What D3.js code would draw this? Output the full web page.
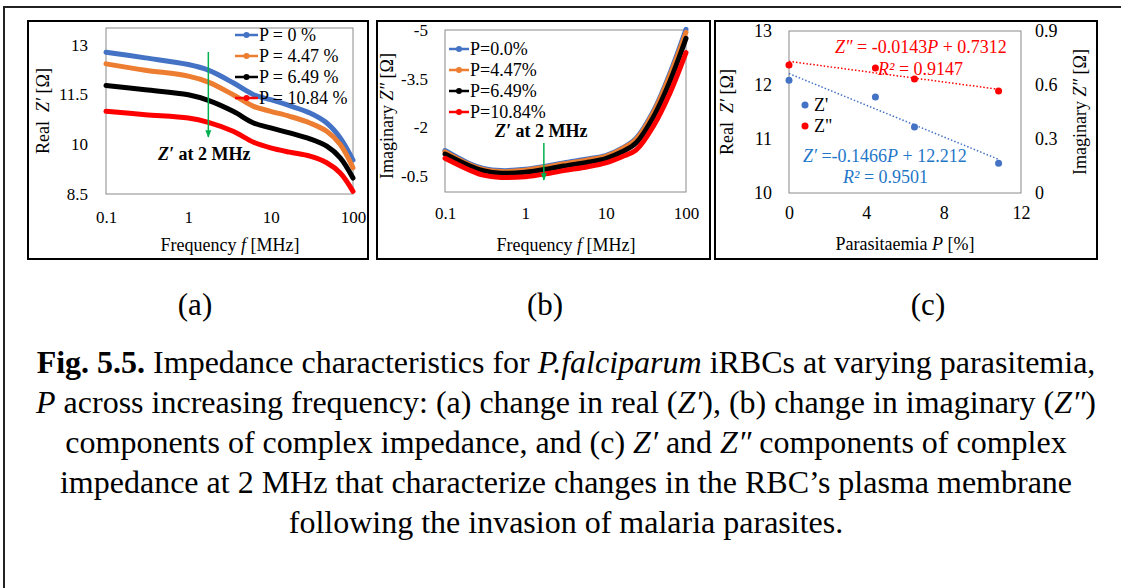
<!DOCTYPE html>
<html>
<head>
<meta charset="utf-8">
<script src="https://cdn.jsdelivr.net/npm/d3@7"></script>
<style>
body { margin: 0; background: #fff; }
text { font-family: "Liberation Serif", "Times New Roman", serif; fill: #000; }
</style>
</head>
<body>
<svg id="fig" width="1121" height="588"></svg>
<script>
// ---- data ----
// (a) real part Z' vs frequency
const freqA = [0.1, 0.3, 1, 1.75, 3.5, 6.2, 10, 17, 30, 48, 70, 100];
const realP0 = [12.77, 12.6, 12.40, 12.23, 11.85, 11.49, 11.34, 11.16, 10.94, 10.64, 10.19, 9.52];
const realP447 = [12.42, 12.23, 12.05, 11.87, 11.49, 11.14, 10.99, 10.84, 10.64, 10.39, 9.99, 9.29];
const realP649 = [11.77, 11.64, 11.49, 11.32, 10.99, 10.64, 10.49, 10.34, 10.16, 9.94, 9.59, 8.98];
const realP1084 = [10.99, 10.89, 10.79, 10.66, 10.39, 10.06, 9.89, 9.76, 9.64, 9.44, 9.13, 8.58];
const legendA = ["P = 0 %", "P = 4.47 %", "P = 6.49 %", "P = 10.84 %"];

// (b) imaginary part Z'' vs frequency
const freqB = [0.1, 0.2, 0.3, 0.5, 1, 2, 3, 6, 10, 16, 24, 40, 63, 100];
const imagP0 = [-1.28, -0.88, -0.73, -0.66, -0.70, -0.82, -0.90, -1.02, -1.12, -1.35, -1.66, -2.53, -3.66, -5.02];
const imagP447 = [-1.24, -0.85, -0.70, -0.63, -0.67, -0.79, -0.87, -0.99, -1.10, -1.33, -1.63, -2.49, -3.60, -4.93];
const imagP649 = [-1.17, -0.81, -0.66, -0.58, -0.61, -0.72, -0.80, -0.92, -1.03, -1.24, -1.52, -2.35, -3.41, -4.74];
const imagP1084 = [-1.04, -0.68, -0.52, -0.45, -0.47, -0.58, -0.66, -0.78, -0.90, -1.09, -1.30, -2.07, -3.05, -4.30];
const legendB = ["P=0.0%", "P=4.47%", "P=6.49%", "P=10.84%"];

// (c) Z' and Z'' at 2 MHz vs parasitaemia
const parasit = [0, 4.47, 6.49, 10.84];
const zReal2MHz = [12.09, 11.78, 11.22, 10.55];
const zImag2MHz = [0.711, 0.694, 0.633, 0.567];
const fitReal = [-0.1466, 12.212];
const fitImag = [-0.0143, 0.7312];

const seriesColors = ["#4472C4", "#ED7D31", "#000000", "#FF0000"];
const arrowGreen = "#00B050";
const serif = '"Liberation Serif", "Times New Roman", serif';
const NB = "\u00A0";

const svg = d3.select("#fig");

// outer figure frame (only top and left show in the crop)
svg.append("path")
    .attr("d", "M4,588 V7 H1121")
    .attr("fill", "none")
    .attr("stroke", "#222")
    .attr("stroke-width", 2);

const defs = svg.append("defs");
defs.append("marker")
    .attr("id", "arrowG")
    .attr("viewBox", "0 0 10 10")
    .attr("refX", 9).attr("refY", 5)
    .attr("markerWidth", 5).attr("markerHeight", 5)
    .attr("orient", "auto")
    .append("path")
    .attr("d", "M0,1 L10,5 L0,9 Z")
    .attr("fill", arrowGreen);

function frame(x0, y0, x1, y1) {
    svg.append("rect")
        .attr("x", x0).attr("y", y0)
        .attr("width", x1 - x0).attr("height", y1 - y0)
        .attr("fill", "none")
        .attr("stroke", "#000")
        .attr("stroke-width", 2);
}

function plotBox(x, y) {
    svg.append("rect")
        .attr("x", x.range()[0]).attr("y", y.range()[1])
        .attr("width", x.range()[1] - x.range()[0])
        .attr("height", y.range()[0] - y.range()[1])
        .attr("fill", "none")
        .attr("stroke", "#8a8a8a")
        .attr("stroke-width", 1);
}

function styleAxis(g, size) {
    g.attr("font-family", serif).attr("font-size", size);
    g.select(".domain").remove();
    g.selectAll("text")
        .attr("font-family", serif)
        .style("font-family", serif)
        .style("font-size", size + "px")
        .attr("fill", "#000");
}

// rich text helper: parts = [[text, style]], style "i", "b", "bi" or ""
function richText(sel, parts) {
    parts.forEach(function(p) {
        const t = sel.append("tspan").text(p[0]);
        if (p[1] && p[1].indexOf("i") >= 0) t.style("font-style", "italic");
        if (p[1] && p[1].indexOf("b") >= 0) t.style("font-weight", "bold");
    });
    return sel;
}

function curvePanel(freqs, series, x, y) {
    const line = d3.line()
        .x(function(d) { return x(d[0]); })
        .y(function(d) { return y(d[1]); })
        .curve(d3.curveCatmullRom.alpha(0.5));
    series.forEach(function(vals, i) {
        svg.append("path")
            .datum(freqs.map(function(f, k) { return [f, vals[k]]; }))
            .attr("d", line)
            .attr("fill", "none")
            .attr("stroke", seriesColors[i])
            .attr("stroke-width", 5)
            .attr("stroke-linecap", "round");
    });
}

function legendBlock(labels, x0, y0, dy, lineLen, size) {
    labels.forEach(function(lab, i) {
        const yy = y0 + i * dy;
        svg.append("line")
            .attr("x1", x0).attr("x2", x0 + lineLen)
            .attr("y1", yy).attr("y2", yy)
            .attr("stroke", seriesColors[i]).attr("stroke-width", 2.5);
        svg.append("circle")
            .attr("cx", x0 + lineLen / 2).attr("cy", yy).attr("r", 3)
            .attr("fill", seriesColors[i]);
        svg.append("text")
            .attr("x", x0 + lineLen + 1).attr("y", yy)
            .attr("dy", "0.35em")
            .style("font-size", size + "px")
            .text(lab);
    });
}

const fmt = function(d) { return String(d); };

// ================= panel (a) =================
frame(28, 21, 368, 259);
const xA = d3.scaleLog().domain([0.1, 100]).range([106, 353]);
const yA = d3.scaleLinear().domain([8.5, 13.5]).range([194, 28]);
plotBox(xA, yA);

svg.append("g").attr("transform", "translate(0,194)")
    .call(d3.axisBottom(xA).tickValues([0.1, 1, 10, 100])
        .tickFormat(fmt).tickSize(0).tickPadding(17))
    .call(styleAxis, 17);
svg.append("g").attr("transform", "translate(106,0)")
    .call(d3.axisLeft(yA).tickValues([8.5, 10, 11.5, 13])
        .tickFormat(fmt).tickSize(0).tickPadding(18))
    .call(styleAxis, 17);

curvePanel(freqA, [realP0, realP447, realP649, realP1084], xA, yA);
legendBlock(legendA, 235, 35, 21, 23, 18);

svg.append("line")
    .attr("x1", xA(1.75)).attr("x2", xA(1.75))
    .attr("y1", 52).attr("y2", 137)
    .attr("stroke", arrowGreen).attr("stroke-width", 1.5)
    .attr("marker-end", "url(#arrowG)");
richText(svg.append("text").attr("x", 158).attr("y", 160).style("font-size", "18px").style("font-weight", "bold"),
    [["Z\u2032", "bi"], [" at 2 MHz", "b"]]);

richText(svg.append("text").attr("text-anchor", "middle")
    .attr("transform", "translate(49,111) rotate(-90)").style("font-size", "18px"),
    [["Real" + NB + NB, ""], ["Z\u2032", "i"], [NB + "[\u03A9]", ""]]);
richText(svg.append("text").attr("text-anchor", "middle")
    .attr("x", 230).attr("y", 251).style("font-size", "18px"),
    [["Frequency ", ""], ["f", "i"], [" [MHz]", ""]]);

// ================= panel (b) =================
frame(377, 21, 710, 259);
const xB = d3.scaleLog().domain([0.1, 100]).range([445, 686]);
const yB = d3.scaleLinear().domain([0, -5]).range([192, 30]);
plotBox(xB, yB);

svg.append("g").attr("transform", "translate(0,192)")
    .call(d3.axisBottom(xB).tickValues([0.1, 1, 10, 100])
        .tickFormat(fmt).tickSize(0).tickPadding(15))
    .call(styleAxis, 17);
svg.append("g").attr("transform", "translate(445,0)")
    .call(d3.axisLeft(yB).tickValues([-0.5, -2, -3.5, -5])
        .tickFormat(fmt).tickSize(0).tickPadding(17))
    .call(styleAxis, 17);

curvePanel(freqB, [imagP0, imagP447, imagP649, imagP1084], xB, yB);
legendBlock(legendB, 449, 49, 21, 20, 18);

svg.append("line")
    .attr("x1", xB(1.7)).attr("x2", xB(1.7))
    .attr("y1", 143).attr("y2", 180)
    .attr("stroke", arrowGreen).attr("stroke-width", 1.5)
    .attr("marker-end", "url(#arrowG)");
richText(svg.append("text").attr("x", 495).attr("y", 137).style("font-size", "18px").style("font-weight", "bold"),
    [["Z\u2032", "bi"], [" at 2 MHz", "b"]]);

richText(svg.append("text").attr("text-anchor", "middle")
    .attr("transform", "translate(393,116) rotate(-90)").style("font-size", "18px"),
    [["Imaginary ", ""], ["Z\u2033", "i"], [NB + "[\u03A9]", ""]]);
richText(svg.append("text").attr("text-anchor", "middle")
    .attr("x", 566).attr("y", 251).style("font-size", "18px"),
    [["Frequency ", ""], ["f", "i"], [" [MHz]", ""]]);

// ================= panel (c) =================
frame(715, 21, 1097, 259);
const xC = d3.scaleLinear().domain([0, 12]).range([789, 1021]);
const yCL = d3.scaleLinear().domain([10, 13]).range([193, 31]);
const yCR = d3.scaleLinear().domain([0, 0.9]).range([193, 31]);
plotBox(xC, yCL);

svg.append("g").attr("transform", "translate(0,193)")
    .call(d3.axisBottom(xC).tickValues([0, 4, 8, 12]).tickFormat(fmt).tickSize(0).tickPadding(13))
    .call(styleAxis, 18);
svg.append("g").attr("transform", "translate(789,0)")
    .call(d3.axisLeft(yCL).tickValues([10, 11, 12, 13]).tickFormat(fmt).tickSize(0).tickPadding(17))
    .call(styleAxis, 18);
svg.append("g").attr("transform", "translate(1021,0)")
    .call(d3.axisRight(yCR).tickValues([0, 0.3, 0.6, 0.9])
        .tickFormat(fmt).tickSize(0).tickPadding(14))
    .call(styleAxis, 18);

const pExt = [parasit[0], parasit[parasit.length - 1]];
svg.append("line")
    .attr("x1", xC(pExt[0])).attr("x2", xC(pExt[1]))
    .attr("y1", yCL(fitReal[0] * pExt[0] + fitReal[1]))
    .attr("y2", yCL(fitReal[0] * pExt[1] + fitReal[1]))
    .attr("stroke", "#4472C4").attr("stroke-width", 1.5).attr("stroke-dasharray", "1.5,2");
svg.append("line")
    .attr("x1", xC(pExt[0])).attr("x2", xC(pExt[1]))
    .attr("y1", yCR(fitImag[0] * pExt[0] + fitImag[1]))
    .attr("y2", yCR(fitImag[0] * pExt[1] + fitImag[1]))
    .attr("stroke", "#FF0000").attr("stroke-width", 1.5).attr("stroke-dasharray", "1.5,2");

svg.selectAll("circle.zr").data(parasit).enter().append("circle")
    .attr("class", "zr")
    .attr("cx", function(d) { return xC(d); })
    .attr("cy", function(d, i) { return yCL(zReal2MHz[i]); })
    .attr("r", 3.5).attr("fill", "#4472C4");
svg.selectAll("circle.zi").data(parasit).enter().append("circle")
    .attr("class", "zi")
    .attr("cx", function(d) { return xC(d); })
    .attr("cy", function(d, i) { return yCR(zImag2MHz[i]); })
    .attr("r", 3.5).attr("fill", "#FF0000");

// legend (c)
[["Z'", "#4472C4"], ["Z\"", "#FF0000"]].forEach(function(it, i) {
    const yy = 105 + i * 21;
    svg.append("circle").attr("cx", 805).attr("cy", yy).attr("r", 3.5).attr("fill", it[1]);
    svg.append("text").attr("x", 814).attr("y", yy).attr("dy", "0.35em")
        .style("font-size", "18px").text(it[0]);
});

// trendline equations
richText(svg.append("text").attr("x", 835).attr("y", 53).style("font-size", "18px").style("fill", "#FF0000"),
    [["Z\u2033", "i"], [" = -0.0143", ""], ["P", "i"], [" + 0.7312", ""]]);
richText(svg.append("text").attr("x", 878).attr("y", 75).style("font-size", "18px").style("fill", "#FF0000"),
    [["R\u00B2", "i"], [" = 0.9147", ""]]);
richText(svg.append("text").attr("x", 803).attr("y", 162).style("font-size", "18px").style("fill", "#1F77C8"),
    [["Z\u2032", "i"], [" =-0.1466", ""], ["P", "i"], [" + 12.212", ""]]);
richText(svg.append("text").attr("x", 843).attr("y", 183).style("font-size", "18px").style("fill", "#1F77C8"),
    [["R\u00B2", "i"], [" = 0.9501", ""]]);

richText(svg.append("text").attr("text-anchor", "middle")
    .attr("transform", "translate(733,112) rotate(-90)").style("font-size", "18px"),
    [["Real" + NB + NB, ""], ["Z\u2032", "i"], [NB + "[\u03A9]", ""]]);
richText(svg.append("text").attr("text-anchor", "middle")
    .attr("transform", "translate(1086,112) rotate(-90)").style("font-size", "18px"),
    [["Imaginary ", ""], ["Z\u2033", "i"], [NB + "[\u03A9]", ""]]);
richText(svg.append("text").attr("text-anchor", "middle")
    .attr("x", 905).attr("y", 250).style("font-size", "18px"),
    [["Parasitaemia ", ""], ["P", "i"], [" [%]", ""]]);

// ================= sub-labels and caption =================
[["(a)", 195], ["(b)", 545], ["(c)", 928]].forEach(function(l) {
    svg.append("text").attr("x", l[1]).attr("y", 315)
        .attr("text-anchor", "middle").style("font-size", "31px").text(l[0]);
});

const captionLines = [
    [["Fig. 5.5.", "b"], [" Impedance characteristics for ", ""], ["P.falciparum", "i"], [" iRBCs at varying parasitemia,", ""]],
    [["P", "i"], [" across increasing frequency: (a) change in real (", ""], ["Z\u2032", "i"], ["), (b) change in imaginary (", ""], ["Z\u2033", "i"], [")", ""]],
    [["components of complex impedance, and (c) ", ""], ["Z\u2032", "i"], [" and ", ""], ["Z\u2033", "i"], [" components of complex", ""]],
    [["impedance at 2 MHz that characterize changes in the RBC\u2019s plasma membrane", ""]],
    [["following the invasion of malaria parasites.", ""]]
];
captionLines.forEach(function(parts, i) {
    richText(svg.append("text").attr("x", 566).attr("y", 373 + i * 40)
        .attr("text-anchor", "middle").style("font-size", "32px"), parts);
});
</script>
</body>
</html>
